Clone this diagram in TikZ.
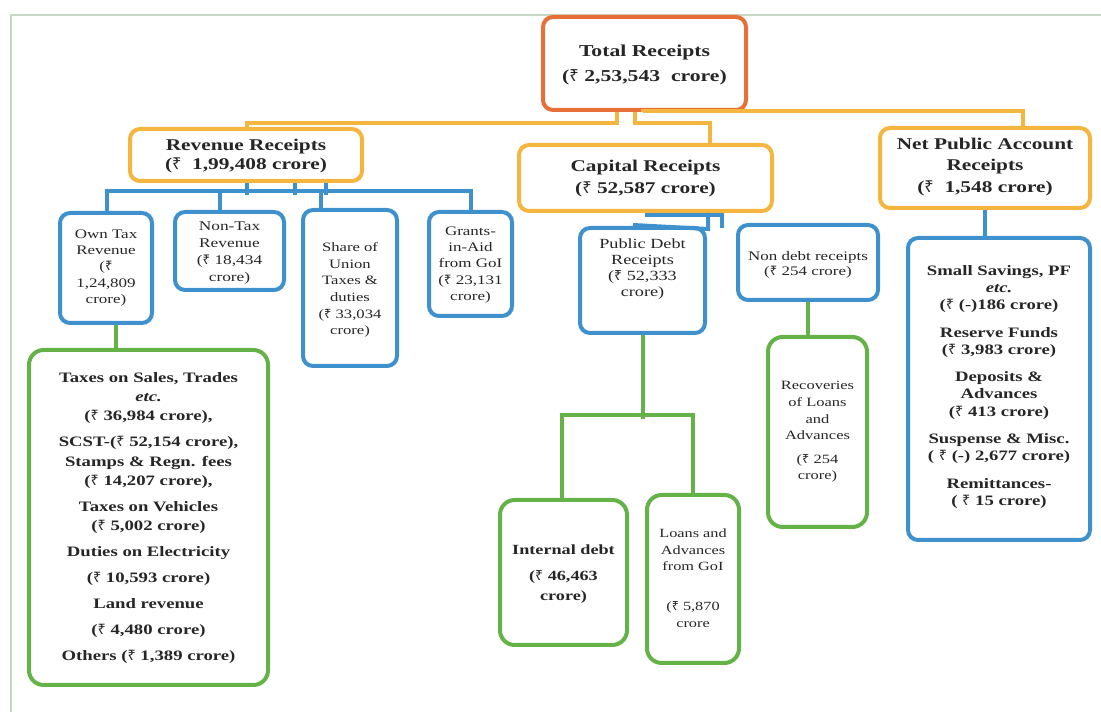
\documentclass[tikz,border=0pt]{standalone}
\usepackage{fontspec}
\setmainfont[FakeStretch=1.3]{Liberation Serif}
\newfontfamily\rsf{Noto Sans}
\newcommand{\rup}{{\rsf ₹}}
\usetikzlibrary{calc}
\definecolor{totc}{RGB}{232,112,56}
\definecolor{orc}{RGB}{244,182,62}
\definecolor{blc}{RGB}{62,145,205}
\definecolor{grc}{RGB}{100,178,72}
\definecolor{frc}{RGB}{200,215,195}
\tikzset{
  box/.style={draw, line width=3pt, rounded corners=7.5pt, minimum width=#1, inner sep=0pt},
  obox/.style={box=0pt, draw=orc},
  bbox/.style={box=0pt, draw=blc},
  gbox/.style={box=0pt, draw=grc, rounded corners=11pt},
  txt/.style={align=center, inner sep=0pt, text=black!85},
  oline/.style={draw=orc, line width=3pt},
  bline/.style={draw=blc, line width=3pt},
  gline/.style={draw=grc, line width=3pt},
}
\newcommand{\sz}[2]{\fontsize{#1}{#2}\selectfont}
\begin{document}
\begin{tikzpicture}[x=0.75pt,y=-0.75pt]
\useasboundingbox (0,0) rectangle (1101,712);
\fill[white] (0,0) rectangle (1101,712);
% frame
\draw[frc, line width=1.2pt] (11,712) -- (11,15) -- (1101,15);

% boxes
\node[box=152.25pt, draw=totc, minimum height=69.75pt] (total) at (644.5,63.5) {};
\node[obox, minimum width=174pt, minimum height=39pt] (rev) at (246,155) {};
\node[obox, minimum width=189.75pt, minimum height=49.5pt] (cap) at (645.5,178) {};
\node[obox, minimum width=157.5pt, minimum height=60pt] (net) at (985,168) {};

\node[bbox, minimum width=69pt, minimum height=82.5pt] (own) at (106,268) {};
\node[bbox, minimum width=81.75pt, minimum height=58.5pt] (nontax) at (229.5,251) {};
\node[bbox, minimum width=70.5pt, minimum height=117pt] (share) at (350,288) {};
\node[bbox, minimum width=62.25pt, minimum height=78pt] (grants) at (470.5,264) {};
\node[bbox, minimum width=93.75pt, minimum height=78.75pt] (pdr) at (642.5,280.5) {};
\node[bbox, minimum width=105pt, minimum height=56.25pt] (nondebt) at (808,262.5) {};
\node[bbox, minimum width=136.5pt, minimum height=226.5pt] (small) at (999,389) {};

\node[gbox, minimum width=179.25pt, minimum height=251.25pt] (green1) at (148.5,517.5) {};
\node[gbox, minimum width=95.25pt, minimum height=108.75pt] (internal) at (563.5,572.5) {};
\node[gbox, minimum width=69pt, minimum height=126pt] (loans) at (693,579) {};
\node[gbox, minimum width=74.25pt, minimum height=142.5pt] (recov) at (817.5,432) {};

% texts
\node[txt, font=\bfseries\sz{12.5}{18.5}] (ttotal) at (644.5,65) {Total Receipts\\(\rup{} 2,53,543~~crore)};
\node[txt, font=\bfseries\sz{12.3}{14.3}] (trev) at (246,156) {Revenue Receipts\\(\rup{}~~1,99,408 crore)};
\node[txt, font=\bfseries\sz{12.3}{16.5}] (tcap) at (645.5,179) {Capital Receipts\\(\rup{} 52,587 crore)};
\node[txt, font=\bfseries\sz{12.3}{16}] (tnet) at (985,167) {Net Public Account\\Receipts\\(\rup{}~~1,548 crore)};

\node[txt, font=\sz{9.8}{12.2}] (town) at (106,268) {Own Tax\\Revenue\\(\rup\\1,24,809\\crore)};
\node[txt, font=\sz{10}{12.7}] (tnontax) at (229.5,253) {Non-Tax\\Revenue\\(\rup{} 18,434\\crore)};
\node[txt, font=\sz{9.6}{12.5}] (tshare) at (350,290) {Share of\\Union\\Taxes \&\\duties\\(\rup{} 33,034\\crore)};
\node[txt, font=\sz{9.8}{12.2}] (tgrants) at (470.5,265) {Grants-\\in-Aid\\from GoI\\(\rup{} 23,131\\crore)};
\node[txt, font=\sz{10.5}{12}] (tpdr) at (642.5,269.5) {Public Debt\\Receipts\\(\rup{} 52,333\\crore)};
\node[txt, font=\sz{9.8}{11.3}] (tnondebt) at (808,265) {Non debt receipts\\(\rup{} 254 crore)};

\node[txt, font=\bfseries\sz{10.8}{12.8}] (tsmall) at (999,387) {Small Savings, PF\\\textit{etc.}\\(\rup{} (-)186 crore)\\[8pt]
Reserve Funds\\(\rup{} 3,983 crore)\\[8pt]
Deposits \&\\Advances\\(\rup{} 413 crore)\\[8pt]
Suspense \& Misc.\\( \rup{} (-) 2,677 crore)\\[8pt]
Remittances-\\( \rup{} 15 crore)};

\node[txt, font=\bfseries\sz{10.8}{14.5}] (tgreen1) at (148.5,518) {Taxes on Sales, Trades\\\textit{etc.}\\(\rup{} 36,984 crore),\\[5pt]
SCST-(\rup{} 52,154 crore),\\Stamps \& Regn. fees\\(\rup{} 14,207 crore),\\[5pt]
Taxes on Vehicles\\(\rup{} 5,002 crore)\\[5pt]
Duties on Electricity\\[5pt]
(\rup{} 10,593 crore)\\[5pt]
Land revenue\\[5pt]
(\rup{} 4,480 crore)\\[5pt]
Others (\rup{} 1,389 crore)};

\node[txt, font=\bfseries\sz{10.5}{15}] (tinternal) at (563.5,574) {Internal debt\\[5pt](\rup{} 46,463\\crore)};
\node[txt, font=\sz{9.4}{12.7}] (tloans) at (693,578) {Loans and\\Advances\\from GoI\\[17pt](\rup{} 5,870\\crore};
\node[txt, font=\sz{9.5}{12.5}] (trecov) at (817.5,432) {Recoveries\\of Loans\\and\\Advances\\[5pt](\rup{} 254\\crore)};

% connectors from Total
\draw[oline] ($(total.south)+(-27.5,0)$) |- ($(rev.north)+(1,-4)$) -- ($(rev.north)+(1,0)$);
\draw[oline] ($(total.south)+(-9.5,0)$) |- ($(cap.north)+(64.5,-20)$) -- ($(cap.north)+(64.5,0)$);
\draw[oline] ($(total.south)+(-1.5,0)$) |- ($(net.north)+(38,-15)$) -- ($(net.north)+(38,0)$);

% Revenue -> children
\draw[bline] ($(rev.south)+(1,0)$) -- ++(0,12);
\draw[bline] ($(rev.south)+(49,0)$) -- ++(0,12);
\draw[bline] ($(rev.south)+(80,0)$) -- ++(0,12);
\draw[bline] ($(own.north)+(1,0)$) |- ($(grants.north)+(0,-19)$) -- (grants.north);
\draw[bline] ($(nontax.north)+(-9.5,0)$) -- ++(0,-19);
\draw[bline] ($(share.north)+(-29,0)$) -- ++(0,-17);

% Own tax -> details
\draw[gline] ($(own.south)+(10,0)$) -- ($(green1.north)+(-32.5,0)$);

% Capital -> children
\draw[bline] ($(cap.south)+(1.5,0)$) |- ($(pdr.north)+(79.5,-11)$) -- ($(pdr.north)+(79.5,2)$);
\draw[bline] ($(cap.south)+(62.5,0)$) -- ++(0,16) -- ($(pdr.north)+(-9.5,-1)$);

% Public debt -> children
\draw[gline] (pdr.south) -- ++(0,84);
\draw[gline] ($(internal.north)+(-1.5,0)$) |- ($(loans.north)+(0,-78)$) -- (loans.north);

% Non debt -> recoveries
\draw[gline] (nondebt.south) -- (nondebt.south |- recov.north);

% Net public -> small savings
\draw[bline] (net.south) -- (net.south |- small.north);
\end{tikzpicture}
\end{document}
